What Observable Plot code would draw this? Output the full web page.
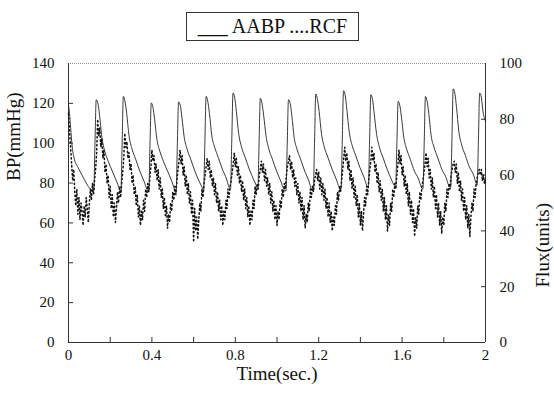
<!DOCTYPE html>
<html><head><meta charset="utf-8">
<script src="https://cdn.jsdelivr.net/npm/d3@7"></script>
<script src="https://cdn.jsdelivr.net/npm/@observablehq/plot@0.6"></script>
<style>
body{margin:0;background:#fff;}
#wrap{position:relative;width:554px;height:396px;font-family:'Liberation Serif',serif;color:#111;}
#wrap svg{position:absolute;left:0;top:0;}
#wrap svg, #wrap svg g, #wrap svg text{font-family:'Liberation Serif',serif !important;}
#legend{position:absolute;left:186px;top:12px;width:173px;height:29px;border:1px solid #333;box-sizing:border-box;font-size:20px;line-height:27px;text-align:center;white-space:nowrap;background:#fff;z-index:2;font-family:'Liberation Serif',serif;}
</style></head><body><div id="wrap"><div id="legend">___ AABP ....RCF</div></div>
<script>
// Aortic arterial blood pressure (mmHg) at sampled times (s)
const aabpTime = [
0, 0.005, 0.01, 0.018, 0.028, 0.045, 0.065, 0.085, 0.105,
0.121, 0.127, 0.133, 0.141, 0.149, 0.16, 0.174, 0.19, 0.21, 0.23, 0.245,
0.251, 0.257, 0.263, 0.271, 0.279, 0.29, 0.305, 0.322, 0.342, 0.362, 0.376,
0.385, 0.391, 0.397, 0.405, 0.413, 0.424, 0.438, 0.455, 0.475, 0.495, 0.508,
0.516, 0.522, 0.528, 0.536, 0.544, 0.555, 0.569, 0.586, 0.606, 0.626, 0.64,
0.648, 0.654, 0.66, 0.668, 0.676, 0.687, 0.701, 0.718, 0.738, 0.758, 0.77,
0.777, 0.783, 0.789, 0.797, 0.805, 0.816, 0.83, 0.847, 0.867, 0.887, 0.9,
0.908, 0.914, 0.92, 0.928, 0.936, 0.947, 0.961, 0.978, 0.998, 1.018, 1.033,
1.043, 1.049, 1.055, 1.063, 1.071, 1.082, 1.096, 1.113, 1.133, 1.153, 1.165,
1.174, 1.18, 1.186, 1.194, 1.202, 1.213, 1.227, 1.244, 1.264, 1.284, 1.298,
1.307, 1.313, 1.319, 1.327, 1.335, 1.346, 1.36, 1.377, 1.397, 1.417, 1.43,
1.438, 1.444, 1.45, 1.458, 1.466, 1.477, 1.491, 1.508, 1.528, 1.548, 1.561,
1.569, 1.575, 1.581, 1.589, 1.597, 1.608, 1.622, 1.639, 1.659, 1.679, 1.692,
1.7, 1.706, 1.712, 1.72, 1.728, 1.739, 1.753, 1.77, 1.79, 1.81, 1.823,
1.833, 1.839, 1.845, 1.853, 1.861, 1.872, 1.886, 1.903, 1.923, 1.943, 1.955,
1.96, 1.966, 1.972, 1.98, 1.988, 2.0];
const aabpBP = [
119, 115, 108, 98, 92, 88, 84, 80, 77,
76, 100, 121.8, 120, 114, 103, 96, 91, 86, 81, 77,
75, 99, 123.5, 121, 115, 104, 97, 92, 86, 81, 77,
76, 100, 120.2, 118, 112, 102, 96, 91, 86, 81, 77,
75, 99, 120.7, 119, 113, 103, 97, 92, 86, 81, 78,
76, 100, 123.5, 121, 115, 104, 98, 93, 87, 82, 78,
77, 101, 125.2, 123, 116, 105, 98, 93, 87, 82, 79,
77, 100, 122.5, 120, 114, 104, 97, 92, 86, 81, 77,
76, 99, 121.8, 120, 114, 103, 97, 92, 86, 81, 77,
76, 100, 124.7, 122, 116, 105, 98, 93, 87, 82, 78,
77, 101, 126.3, 124, 117, 106, 99, 94, 88, 83, 79,
78, 101, 124.3, 122, 115, 105, 98, 93, 87, 82, 79,
78, 100, 121, 119, 113, 103, 97, 92, 86, 82, 78,
77, 100, 123.5, 121, 115, 104, 98, 93, 87, 83, 79,
78, 102, 127.3, 125, 118, 106, 99, 94, 88, 84, 80,
79, 101, 125.2, 123, 116, 111];

// Renal cortical flux (units), sampled every 0.005 s from 0 to 2 s
const rcfStep = 0.005;
const rcfFlux = [
82, 76, 70, 64, 58, 62, 54, 49, 55, 46, 52, 44, 50, 47, 42, 49, 45, 52, 48, 43, 50, 55, 51, 57,
53, 58, 62, 68, 80, 74, 77, 70, 73, 66, 69, 61, 64, 57, 60, 52, 56, 48, 53, 45, 50, 43, 48, 54, 50, 56,
52, 57, 61, 66, 75, 70, 72, 66, 68, 62, 64, 57, 60, 53, 56, 49, 53, 45, 49, 42, 47, 44, 51, 47, 55, 52,
57, 54, 59, 63, 69, 65, 67, 61, 64, 58, 62, 55, 59, 52, 55, 48, 52, 45, 49, 41, 46, 43, 50, 47, 54, 51, 56,
53, 58, 62, 65, 69, 64, 67, 60, 63, 56, 60, 53, 57, 50, 54, 46, 51, 36, 48, 40, 45, 37, 44, 50, 47, 55,
52, 57, 60, 63, 66, 62, 65, 59, 62, 56, 59, 53, 57, 50, 54, 47, 51, 44, 49, 42, 47, 44, 51, 48, 55, 52,
56, 58, 61, 64, 68, 63, 66, 60, 63, 57, 60, 54, 58, 51, 55, 48, 52, 45, 49, 42, 47, 44, 51, 48, 56, 53,
57, 55, 60, 62, 65, 61, 64, 58, 62, 56, 59, 53, 57, 50, 54, 47, 51, 44, 49, 42, 47, 44, 51, 48, 55, 52, 57,
55, 60, 63, 65, 67, 62, 65, 59, 62, 56, 59, 53, 57, 50, 54, 47, 52, 44, 49, 41, 46, 43, 50, 47, 55, 52,
56, 54, 58, 60, 62, 58, 61, 55, 59, 53, 57, 51, 55, 48, 52, 45, 50, 43, 47, 40, 45, 42, 49, 46, 54, 51, 56,
54, 58, 62, 66, 70, 65, 68, 62, 65, 58, 62, 55, 59, 52, 56, 49, 53, 45, 50, 42, 47, 40, 46, 52, 49, 56,
53, 58, 62, 65, 70, 65, 68, 61, 64, 57, 61, 54, 58, 51, 55, 47, 52, 44, 49, 40, 46, 42, 50, 47, 55, 52,
57, 55, 60, 64, 69, 64, 67, 60, 63, 56, 60, 53, 57, 49, 54, 46, 51, 43, 48, 38, 45, 41, 49, 46, 54, 51,
56, 58, 61, 64, 68, 63, 66, 59, 62, 55, 59, 52, 56, 48, 53, 45, 50, 42, 47, 39, 45, 42, 50, 47, 55, 52, 57,
55, 60, 62, 64, 65, 61, 64, 57, 61, 54, 58, 51, 55, 47, 52, 44, 49, 41, 46, 38, 45, 50, 47, 55, 52,
57, 59, 61, 62, 60, 62, 58, 60, 57, 59];

const bpTicks = [0, 20, 40, 60, 80, 100, 120, 140];
const fluxTicks = [0, 20, 40, 60, 80, 100];
const timeTicks = [0, 0.2, 0.4, 0.6, 0.8, 1, 1.2, 1.4, 1.6, 1.8, 2];
const timeLabels = [0, 0.4, 0.8, 1.2, 1.6, 2];
const bpMax = 140, fluxMax = 100;
const fluxToBP = bpMax / fluxMax;

const aabp = aabpTime.map((t, i) => ({t, v: aabpBP[i]}));
const rcf = rcfFlux.map((f, i) => ({t: i * rcfStep, v: f * fluxToBP}));
const serif = "Liberation Serif";

const chart = Plot.plot({
  width: 554, height: 396,
  marginLeft: 68, marginRight: 69, marginTop: 63, marginBottom: 54,
  style: {fontFamily: serif, fontSize: "15px", color: "#111", background: "transparent", overflow: "visible"},
  x: {domain: [0, 2]},
  y: {domain: [0, bpMax]},
  marks: [
    Plot.ruleY([bpMax], {stroke: "#777", strokeWidth: 0.8, strokeDasharray: "1,1"}),
    Plot.ruleY([0], {stroke: "#333", strokeWidth: 1}),
    Plot.ruleX([0], {stroke: "#333", strokeWidth: 1}),
    Plot.ruleX([2], {stroke: "#333", strokeWidth: 1}),
    Plot.line(rcf, {x: "t", y: "v", stroke: "#111", strokeWidth: 1.5, strokeDasharray: "1.3,2.7"}),
    Plot.line(aabp, {x: "t", y: "v", stroke: "#222", strokeWidth: 0.9, curve: "monotone-x"}),
    Plot.axisY(bpTicks, {anchor: "left", tickSize: 0, tickPadding: 14, label: null, fontSize: 15, fontFamily: serif}),
    Plot.axisY(bpTicks.slice(1, -1), {anchor: "left", tickSize: 5, dx: 5, tickFormat: () => "", label: null, stroke: "#333"}),
    Plot.axisY(fluxTicks.map(f => f * fluxToBP), {anchor: "right", tickSize: 0, tickPadding: 14, label: null, fontSize: 15, fontFamily: serif, tickFormat: d => String(Math.round(d / fluxToBP))}),
    Plot.axisY(fluxTicks.slice(1, -1).map(f => f * fluxToBP), {anchor: "right", tickSize: 5, dx: -5, tickFormat: () => "", label: null, stroke: "#333"}),
    Plot.axisX(timeLabels, {anchor: "bottom", tickSize: 0, tickPadding: 7, label: null, fontSize: 15, fontFamily: serif, tickFormat: d => String(d)}),
    Plot.axisX(timeTicks.slice(1, -1), {anchor: "bottom", tickSize: 5, dy: -5, tickFormat: () => "", label: null, stroke: "#333"}),
    Plot.text(["BP(mmHg)"], {frameAnchor: "left", dx: -55, dy: -22, rotate: -90, fontSize: 19, fontFamily: serif, fill: "#111"}),
    Plot.text(["Flux(units)"], {frameAnchor: "right", dx: 57, dy: 0, rotate: -90, fontSize: 19, fontFamily: serif, fill: "#111"}),
    Plot.text(["Time(sec.)"], {frameAnchor: "bottom", dy: 37, fontSize: 19, fontFamily: serif, fill: "#111"})
  ]
});
document.getElementById("wrap").appendChild(chart);
</script></body></html>
